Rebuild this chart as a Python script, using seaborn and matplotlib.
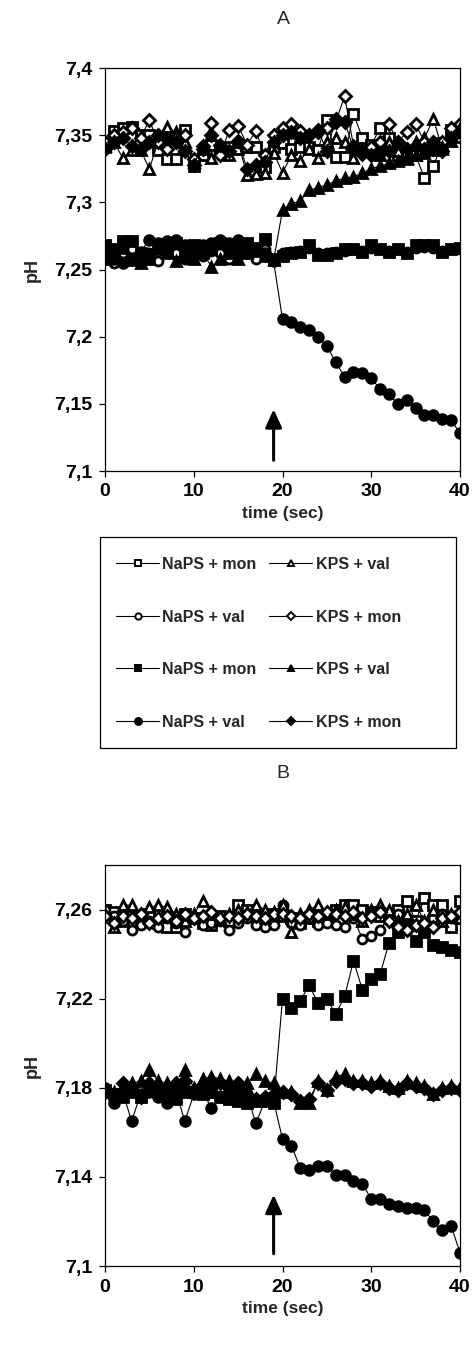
import numpy as np
import pandas as pd
import matplotlib
matplotlib.use("Agg")
import matplotlib.pyplot as plt
from matplotlib.lines import Line2D
from matplotlib.patches import Rectangle
import seaborn as sns

# ---------------- data ----------------
time_sec = list(range(0, 41))

# Panel A
A_naps_mon_open = [7.341, 7.353, 7.355, 7.356, 7.350, 7.350, 7.339, 7.332, 7.332, 7.354, 7.327,
                   7.335, 7.343, 7.339, 7.341, 7.340, 7.341, 7.341, 7.326, 7.341, 7.344,
                   7.340, 7.341, 7.341, 7.339, 7.361, 7.334, 7.334, 7.366, 7.348, 7.343,
                   7.355, 7.348, 7.335, 7.335, 7.335, 7.318, 7.327, 7.344, 7.354, 7.349]
A_naps_val_open = [7.258, 7.255, 7.262, 7.265, 7.258, 7.262, 7.256, 7.268, 7.262, 7.258, 7.265,
                   7.260, 7.264, 7.262, 7.258, 7.265, 7.262, 7.258, 7.265, 7.258, 7.262,
                   7.263, 7.264, 7.266, 7.262, 7.262, 7.263, 7.264, 7.265, 7.264, 7.266,
                   7.265, 7.264, 7.265, 7.263, 7.266, 7.267, 7.266, 7.264, 7.265, 7.265]
A_naps_mon_fill = [7.268, 7.265, 7.271, 7.271, 7.262, 7.260, 7.268, 7.265, 7.270, 7.266, 7.268,
                   7.262, 7.265, 7.270, 7.268, 7.264, 7.270, 7.266, 7.273, 7.258, 7.260,
                   7.262, 7.263, 7.268, 7.261, 7.261, 7.262, 7.265, 7.265, 7.263, 7.268,
                   7.265, 7.263, 7.265, 7.262, 7.268, 7.268, 7.268, 7.263, 7.265, 7.266]
A_naps_val_fill = [7.262, 7.258, 7.255, 7.258, 7.263, 7.272, 7.270, 7.271, 7.272, 7.268, 7.262,
                   7.268, 7.270, 7.272, 7.270, 7.272, 7.268, 7.265, 7.262, 7.256, 7.213,
                   7.211, 7.207, 7.205, 7.200, 7.193, 7.181, 7.170, 7.174, 7.173, 7.169,
                   7.161, 7.157, 7.150, 7.153, 7.147, 7.142, 7.142, 7.139, 7.138, 7.128]
A_kps_val_open = [7.342, 7.345, 7.333, 7.339, 7.339, 7.325, 7.345, 7.356, 7.352, 7.345, 7.330,
                  7.340, 7.333, 7.342, 7.335, 7.345, 7.320, 7.321, 7.322, 7.337, 7.322,
                  7.335, 7.331, 7.340, 7.333, 7.345, 7.348, 7.345, 7.333, 7.340, 7.338,
                  7.335, 7.345, 7.338, 7.332, 7.345, 7.348, 7.362, 7.340, 7.350, 7.356]
A_kps_mon_open = [7.345, 7.350, 7.352, 7.355, 7.348, 7.361, 7.345, 7.340, 7.348, 7.350, 7.332,
                  7.340, 7.359, 7.335, 7.354, 7.357, 7.343, 7.353, 7.335, 7.350, 7.355,
                  7.358, 7.353, 7.350, 7.352, 7.355, 7.360, 7.379, 7.342, 7.338, 7.341,
                  7.345, 7.358, 7.345, 7.352, 7.358, 7.345, 7.340, 7.345, 7.355, 7.358]
A_kps_val_fill = [7.258, 7.262, 7.266, 7.257, 7.255, 7.258, 7.265, 7.262, 7.256, 7.260, 7.258,
                  7.263, 7.252, 7.258, 7.262, 7.258, 7.262, 7.264, 7.260, 7.257, 7.294,
                  7.299, 7.301, 7.309, 7.311, 7.313, 7.316, 7.318, 7.319, 7.322, 7.325,
                  7.327, 7.329, 7.331, 7.333, 7.335, 7.337, 7.339, 7.341, 7.346, 7.355]
A_kps_mon_fill = [7.340, 7.345, 7.348, 7.342, 7.340, 7.345, 7.350, 7.348, 7.345, 7.338, 7.328,
                  7.342, 7.350, 7.343, 7.338, 7.346, 7.325, 7.328, 7.330, 7.345, 7.350,
                  7.352, 7.348, 7.350, 7.354, 7.338, 7.362, 7.360, 7.340, 7.336, 7.335,
                  7.337, 7.338, 7.345, 7.340, 7.342, 7.340, 7.345, 7.338, 7.348, 7.352]

# Panel B
B_naps_mon_open = [7.260, 7.259, 7.255, 7.257, 7.255, 7.258, 7.254, 7.252, 7.252, 7.258, 7.256,
                   7.254, 7.253, 7.257, 7.255, 7.262, 7.260, 7.258, 7.255, 7.258, 7.257,
                   7.256, 7.254, 7.256, 7.255, 7.258, 7.260, 7.262, 7.262, 7.260, 7.259,
                   7.257, 7.256, 7.260, 7.264, 7.255, 7.265, 7.262, 7.262, 7.252, 7.264]
B_naps_val_open = [7.260, 7.257, 7.255, 7.251, 7.253, 7.255, 7.252, 7.256, 7.254, 7.250, 7.256,
                   7.253, 7.254, 7.255, 7.251, 7.254, 7.256, 7.253, 7.252, 7.253, 7.262,
                   7.254, 7.253, 7.256, 7.253, 7.254, 7.253, 7.252, 7.256, 7.247, 7.248,
                   7.251, 7.256, 7.258, 7.256, 7.253, 7.254, 7.256, 7.258, 7.256, 7.258]
B_naps_mon_fill = [7.179, 7.177, 7.176, 7.178, 7.176, 7.180, 7.179, 7.177, 7.175, 7.178, 7.178,
                   7.177, 7.178, 7.176, 7.175, 7.174, 7.173, 7.174, 7.174, 7.173, 7.220,
                   7.216, 7.219, 7.226, 7.218, 7.220, 7.213, 7.221, 7.237, 7.224, 7.229,
                   7.231, 7.245, 7.250, 7.253, 7.246, 7.250, 7.244, 7.243, 7.242, 7.241]
B_naps_val_fill = [7.180, 7.173, 7.178, 7.165, 7.177, 7.178, 7.176, 7.173, 7.178, 7.165, 7.177,
                   7.178, 7.171, 7.176, 7.178, 7.176, 7.177, 7.164, 7.174, 7.174, 7.157,
                   7.154, 7.144, 7.143, 7.145, 7.145, 7.141, 7.141, 7.138, 7.137, 7.130,
                   7.130, 7.128, 7.127, 7.126, 7.126, 7.125, 7.120, 7.116, 7.118, 7.106]
B_kps_val_open = [7.258, 7.252, 7.262, 7.262, 7.258, 7.261, 7.262, 7.261, 7.258, 7.255, 7.258,
                  7.264, 7.258, 7.256, 7.258, 7.260, 7.259, 7.262, 7.260, 7.259, 7.262,
                  7.250, 7.258, 7.260, 7.262, 7.258, 7.260, 7.261, 7.258, 7.255, 7.260,
                  7.262, 7.260, 7.255, 7.258, 7.262, 7.255, 7.260, 7.255, 7.258, 7.256]
B_kps_mon_open = [7.257, 7.254, 7.257, 7.256, 7.258, 7.254, 7.256, 7.257, 7.255, 7.258, 7.256,
                  7.257, 7.259, 7.256, 7.257, 7.256, 7.258, 7.257, 7.256, 7.258, 7.258,
                  7.257, 7.256, 7.258, 7.257, 7.259, 7.258, 7.257, 7.259, 7.256, 7.257,
                  7.259, 7.255, 7.252, 7.251, 7.253, 7.254, 7.252, 7.256, 7.257, 7.259]
B_kps_val_fill = [7.180, 7.178, 7.180, 7.182, 7.183, 7.188, 7.183, 7.182, 7.180, 7.188, 7.180,
                  7.184, 7.185, 7.184, 7.183, 7.181, 7.182, 7.186, 7.183, 7.182, 7.178,
                  7.178, 7.173, 7.173, 7.183, 7.179, 7.185, 7.186, 7.183, 7.183, 7.182,
                  7.183, 7.181, 7.180, 7.183, 7.182, 7.181, 7.177, 7.180, 7.181, 7.180]
B_kps_mon_fill = [7.178, 7.176, 7.182, 7.179, 7.176, 7.182, 7.180, 7.178, 7.182, 7.183, 7.179,
                  7.181, 7.183, 7.182, 7.180, 7.182, 7.176, 7.175, 7.176, 7.177, 7.178,
                  7.177, 7.174, 7.175, 7.182, 7.179, 7.183, 7.184, 7.182, 7.182, 7.181,
                  7.182, 7.180, 7.179, 7.182, 7.181, 7.180, 7.177, 7.179, 7.180, 7.179]

series_labels = ["NaPS + mon", "NaPS + val", "NaPS + mon", "NaPS + val",
                 "KPS + val", "KPS + mon", "KPS + val", "KPS + mon"]

A_yticks = [7.1, 7.15, 7.2, 7.25, 7.3, 7.35, 7.4]
A_yticklabels = ["7,1", "7,15", "7,2", "7,25", "7,3", "7,35", "7,4"]
B_yticks = [7.1, 7.14, 7.18, 7.22, 7.26]
B_yticklabels = ["7,1", "7,14", "7,18", "7,22", "7,26"]
xticks = [0, 10, 20, 30, 40]

# ---------------- styling ----------------
sns.set_style("ticks")
plt.rcParams["font.family"] = ["Liberation Sans", "DejaVu Sans"]
plt.rcParams["font.weight"] = "bold"

markers = ["s", "o", "s", "o", "^", "D", "^", "D"]
filled = [False, False, True, True, False, False, True, True]
msizes = [6.5, 6.5, 6.5, 7.0, 7.0, 6.0, 7.0, 6.0]

fig = plt.figure(figsize=(4.74, 13.47), dpi=100)
W, H = 474.0, 1347.0
axA = fig.add_axes([105 / W, 1 - 471 / H, 355 / W, 403 / H])
axB = fig.add_axes([105 / W, 1 - 1266 / H, 355 / W, 401 / H])

A_series = [A_naps_mon_open, A_naps_val_open, A_naps_mon_fill, A_naps_val_fill,
            A_kps_val_open, A_kps_mon_open, A_kps_val_fill, A_kps_mon_fill]
B_series = [B_naps_mon_open, B_naps_val_open, B_naps_mon_fill, B_naps_val_fill,
            B_kps_val_open, B_kps_mon_open, B_kps_val_fill, B_kps_mon_fill]


def style_for(i):
    return dict(marker=markers[i], markersize=msizes[i], markeredgewidth=2.0,
                markeredgecolor="black",
                markerfacecolor="black" if filled[i] else "white",
                color="black", linewidth=0.8)


for ax, series in [(axA, A_series), (axB, B_series)]:
    for i, vals in enumerate(series):
        df = pd.DataFrame({"t": time_sec, "pH": vals})
        sns.lineplot(data=df, x="t", y="pH", ax=ax, legend=False, **style_for(i))

for ax, yt, ytl, ylim, arrow in [(axA, A_yticks, A_yticklabels, (7.1, 7.4), (7.108, 7.146)),
                                 (axB, B_yticks, B_yticklabels, (7.1, 7.28), (7.1055, 7.132))]:
    ax.set_xlim(0, 40)
    ax.set_ylim(*ylim)
    ax.set_xticks(xticks)
    ax.set_xticklabels([str(x) for x in xticks], fontsize=14, fontweight="bold")
    ax.set_yticks(yt)
    ax.set_yticklabels(ytl, fontsize=14, fontweight="bold")
    ax.set_xlabel("time (sec)", fontsize=12.5, fontweight="bold", labelpad=4)
    ax.set_ylabel("pH", fontsize=13, fontweight="bold", labelpad=10)
    for s in ax.spines.values():
        s.set_visible(True)
        s.set_linewidth(0.9)
        s.set_color("black")
    ax.tick_params(axis="both", direction="out", length=4, width=0.9, colors="black", pad=5)
    ax.annotate("", xy=(19, arrow[1]), xytext=(19, arrow[0]),
                arrowprops=dict(arrowstyle="-|>,head_length=1.1,head_width=0.5",
                                color="black", lw=2.2, shrinkA=0, shrinkB=0))

fig.text(283 / W, 1 - 19 / H, "A", ha="center", va="center", fontsize=14, fontweight="normal")
fig.text(283 / W, 1 - 774 / H, "B", ha="center", va="center", fontsize=14, fontweight="normal")

# legend box (frame drawn separately for exact placement)
fig.patches.append(Rectangle((100 / W, 1 - 748 / H), 356 / W, 211 / H,
                             transform=fig.transFigure, fill=False,
                             edgecolor="black", linewidth=0.9))

handles = [Line2D([0], [0], **style_for(i)) for i in range(8)]
for h, i in zip(handles, range(8)):
    h.set_markersize(msizes[i] - 2.0)
    h.set_markeredgewidth(1.4)
leg = fig.legend(handles, series_labels, ncol=2, loc="upper left",
                 bbox_to_anchor=(116 / W, 1 - 557 / H), borderaxespad=0.0,
                 frameon=False, borderpad=0.0,
                 prop={"weight": "bold", "size": 11.5}, handlelength=2.7, handletextpad=0.2,
                 labelspacing=2.35, columnspacing=0.8)

fig.savefig("out.png", dpi=100)
